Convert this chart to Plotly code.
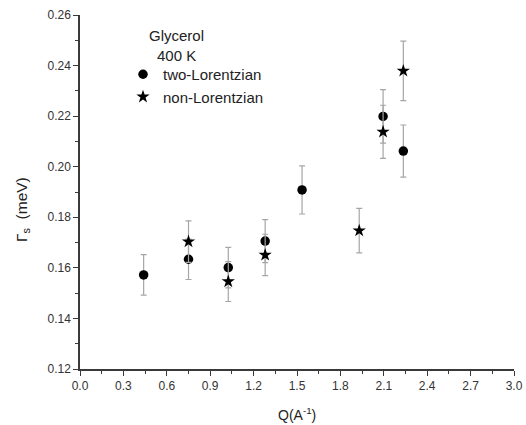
import plotly.graph_objects as go

# Data
q_two = [0.44, 0.75, 1.025, 1.28, 1.535, 2.095, 2.235]
g_two = [0.1572, 0.1634, 0.1601, 0.1706, 0.1908, 0.2199, 0.2062]
e_two = [0.0080, 0.0080, 0.0080, 0.0085, 0.0095, 0.0106, 0.0103]

q_non = [0.75, 1.025, 1.28, 1.93, 2.095, 2.235]
g_non = [0.1704, 0.1546, 0.1651, 0.1747, 0.2138, 0.2379]
e_non = [0.0082, 0.0079, 0.0082, 0.0088, 0.0105, 0.0118]

x_ticks = [0.0, 0.3, 0.6, 0.9, 1.2, 1.5, 1.8, 2.1, 2.4, 2.7, 3.0]
y_ticks = [0.12, 0.14, 0.16, 0.18, 0.20, 0.22, 0.24, 0.26]

FONT = "Liberation Sans, Arial, sans-serif"
ERR = dict(type="data", visible=True, color="#a6a6a6", thickness=1.2, width=3)

W, H = 526, 425
L, R, T, B = 80, 12, 15, 56
PX0, PX1, PY0, PY1 = L, W - R, T, H - B


def px(x_page):
    return (x_page - PX0) / (PX1 - PX0)


def py(y_page):
    return (PY1 - y_page) / (PY1 - PY0)


fig = go.Figure()
fig.add_trace(go.Scatter(
    x=q_two, y=g_two, mode="markers", name="two-Lorentzian",
    marker=dict(symbol="circle", size=9.5, color="black"),
    error_y=dict(array=e_two, **ERR),
))
fig.add_trace(go.Scatter(
    x=q_non, y=g_non, mode="markers", name="non-Lorentzian",
    marker=dict(symbol="star", size=10, color="black"),
    error_y=dict(array=e_non, **ERR),
))

axis_common = dict(
    showline=True, linecolor="#3a3a3a", linewidth=1.5,
    ticks="outside", ticklen=5, tickwidth=1.2, tickcolor="#3a3a3a",
    showgrid=False, zeroline=False, mirror=False, automargin=False,
    tickfont=dict(family=FONT, size=12, color="#333"),
)

fig.update_layout(
    width=W, height=H,
    margin=dict(l=L, r=R, t=T, b=B, autoexpand=False),
    paper_bgcolor="white", plot_bgcolor="white",
    font=dict(family=FONT, color="#222"),
    showlegend=True,
    legend=dict(
        x=px(123), y=py(58), xanchor="left", yanchor="top",
        bgcolor="rgba(0,0,0,0)", font=dict(family=FONT, size=15, color="#222"),
        tracegroupgap=0,
    ),
    xaxis=dict(
        range=[0, 3.0], tickvals=x_ticks,
        ticktext=[f"{v:.1f}" for v in x_ticks],
        minor=dict(ticks="outside", ticklen=3, tickcolor="#3a3a3a", dtick=0.15, tick0=0),
        **axis_common,
    ),
    yaxis=dict(
        range=[0.12, 0.26], tickvals=y_ticks,
        ticktext=[f"{v:.2f}" for v in y_ticks],
        minor=dict(ticks="outside", ticklen=3, tickcolor="#3a3a3a", dtick=0.01, tick0=0.12),
        **axis_common,
    ),
)

fig.add_annotation(text="Glycerol", x=px(147), y=py(35), xref="paper", yref="paper",
                   showarrow=False, xanchor="left", yanchor="middle",
                   font=dict(family=FONT, size=15, color="#222"))
fig.add_annotation(text="400 K", x=px(155), y=py(56), xref="paper", yref="paper",
                   showarrow=False, xanchor="left", yanchor="middle",
                   font=dict(family=FONT, size=15, color="#222"))
fig.add_annotation(text="Q(A<sup>-1</sup>)", x=px(297), y=py(414), xref="paper", yref="paper",
                   showarrow=False, xanchor="center", yanchor="middle",
                   font=dict(family=FONT, size=14, color="#222"))
fig.add_annotation(text="Γ<sub>s</sub>  (meV)", x=px(22), y=py(210), xref="paper", yref="paper",
                   showarrow=False, xanchor="center", yanchor="middle", textangle=-90,
                   font=dict(family=FONT, size=15.5, color="#222"))

fig.write_html(
    "out.html",
    config={"displayModeBar": False},
    post_script="document.body.style.margin='0';document.body.style.overflow='hidden';",
)
